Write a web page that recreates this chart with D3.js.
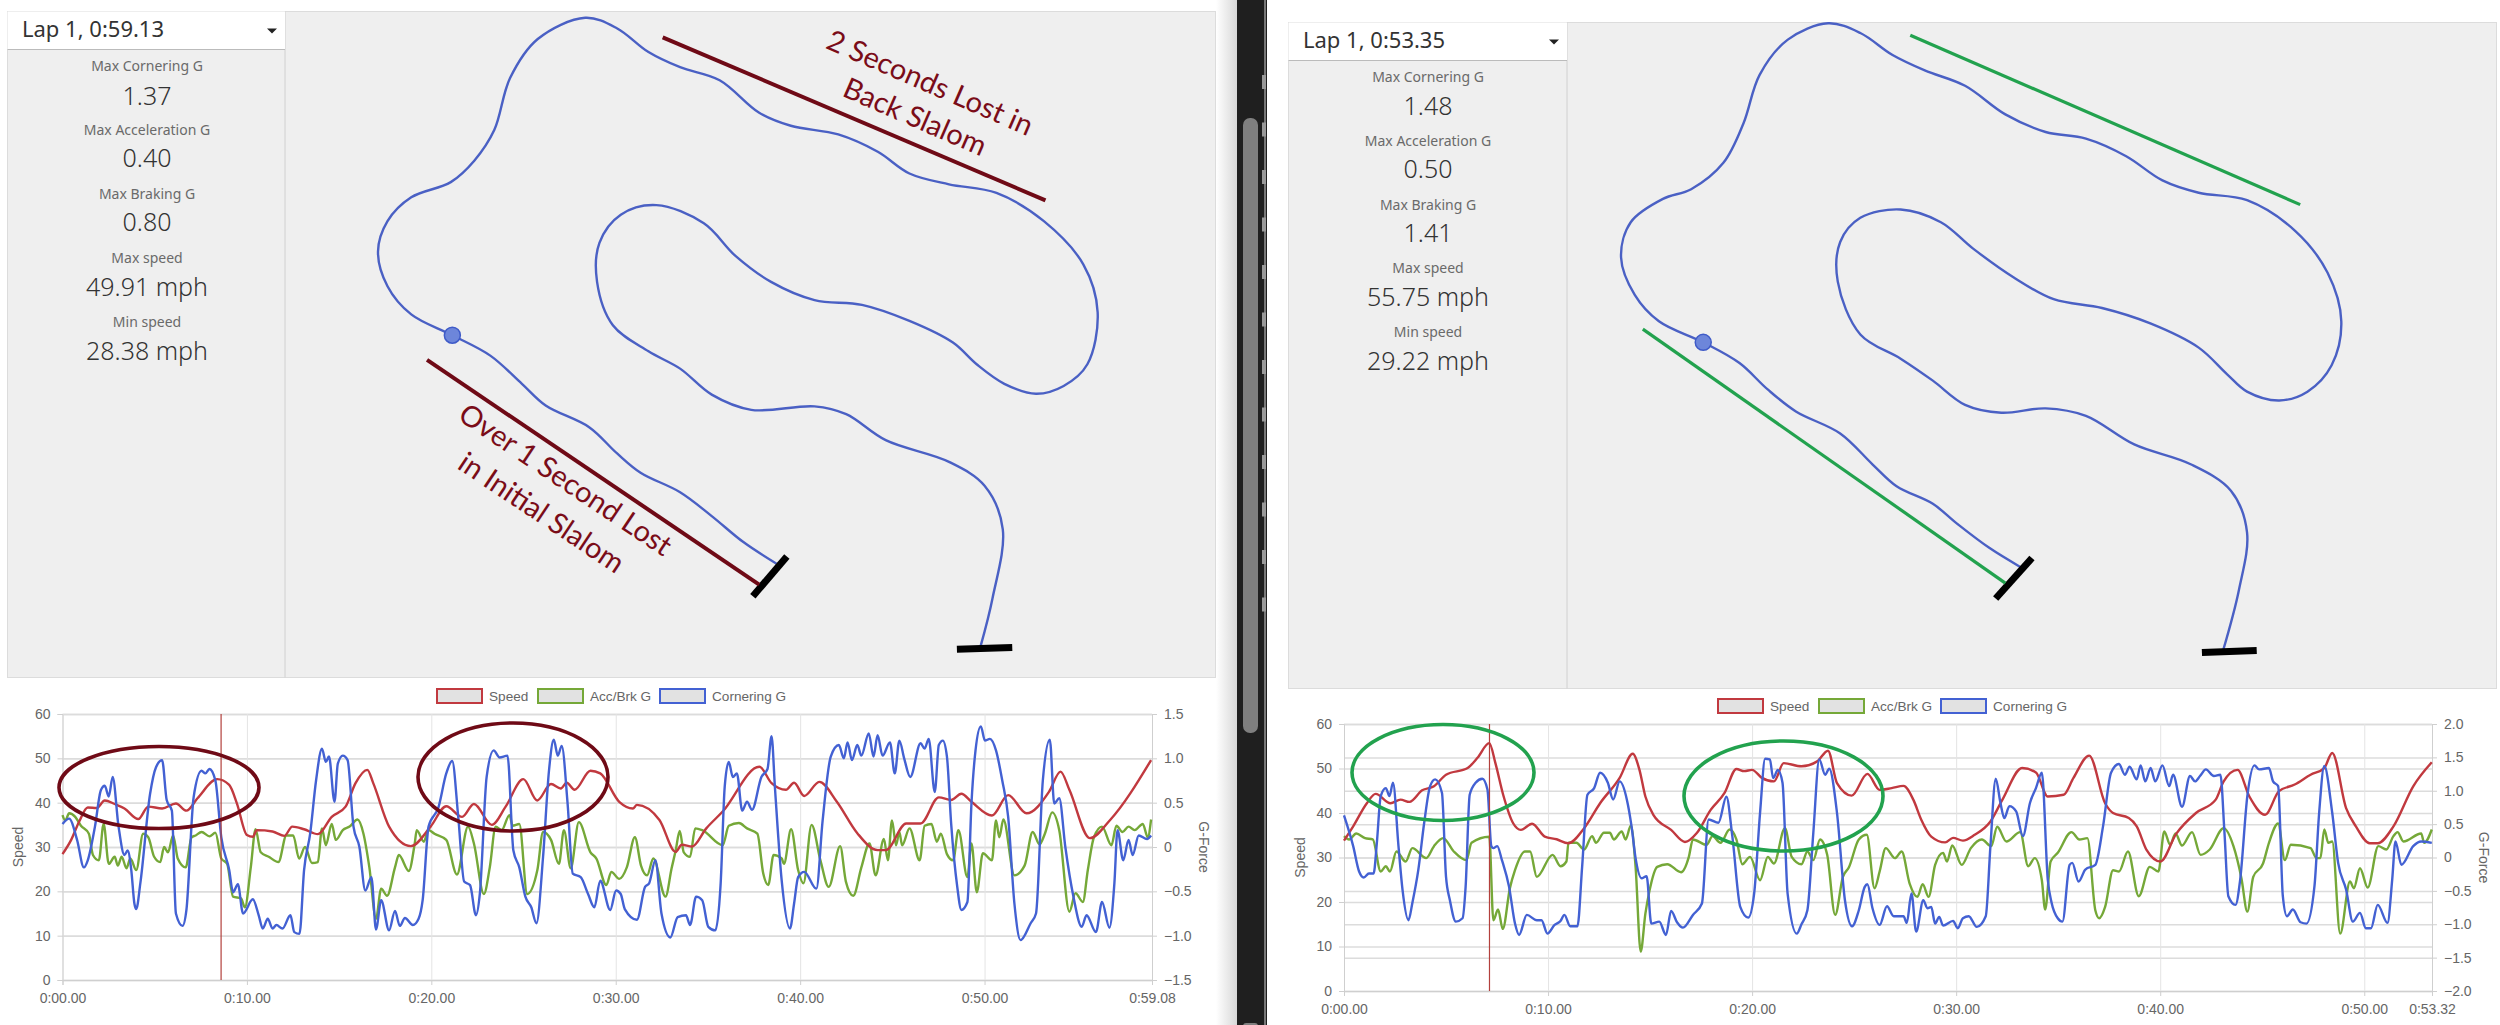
<!DOCTYPE html>
<html lang="en">
<head>
  <meta charset="UTF-8">
  <title>Autocross lap comparison</title>
  <script src="https://d3js.org/d3.v7.min.js"></script>
  <style>
    body { margin: 0; background: #fff; }
    svg { display: block; }
  </style>
</head>
<body>
<script type="text/javascript">
// [seconds, mph]
var lap1Speed = [[0,28.4],[.47,31.6],[.9,35.7],[1.37,38.9],[1.86,38.8],[2.29,40.5],[2.83,39.7],[3.36,38.7],[4.11,36.3],[4.65,39.1],[5.4,38.7],[6.15,39.8],[6.72,38.2],[7.32,41],[8.39,45.3],[9.04,44],[9.46,39.8],[10,32.7],[10.32,32.3],[10.54,33.8],[11.39,33.5],[12.03,32.5],[12.46,34.6],[13.1,34],[13.85,32.9],[14.6,36.8],[15.35,39.1],[15.89,44.4],[16.53,47.4],[16.85,44.4],[17.71,34.6],[18.89,30.2],[19.96,34.6],[20.81,39.2],[21.67,36.8],[22.31,39.7],[23.28,35],[24.03,39.1],[24.99,45.3],[25.74,40.5],[26.49,44.2],[27.02,43.2],[27.34,44.5],[27.77,42.9],[28.63,47.2],[29.16,46.6],[30.19,40.2],[30.93,38.7],[31.15,39.5],[32.37,36.1],[33.25,28.9],[33.58,30.5],[34.14,30.1],[34.91,34.2],[35.8,38],[37.79,48.1],[38.45,44.4],[39.23,42.9],[39.67,44.5],[40.22,41.5],[41.04,44.7],[41.99,40.2],[43.1,33.1],[44.2,29.3],[44.65,29.3],[45.75,35.3],[46.53,35.3],[47.52,41.2],[48.19,40.6],[48.74,42],[49.29,40.2],[50.4,37.1],[51.28,41.7],[52.28,37.6],[53.5,42.5],[54.12,47],[54.6,42.9],[55.71,32],[56.81,36.1],[59.03,49.6]];

// [seconds, G]
var lap1Accel = [[0,.36],[.15,.3],[.36,.38],[.69,.34],[1,.24],[1.43,.15],[1.65,-.09],[1.97,-.15],[2.23,.26],[2.51,-.19],[2.83,-.11],[3,-.21],[3.21,-.11],[3.47,-.24],[3.68,-.13],[4,-.26],[4.37,.15],[4.65,.11],[4.97,-.11],[5.3,-.17],[5.51,0],[5.72,-.06],[6,.13],[6.25,-.13],[6.68,-.23],[7,.11],[7.22,.13],[7.54,.17],[7.97,.12],[8.29,.16],[8.61,-.13],[8.93,-.19],[9.25,-.56],[9.68,-.58],[9.89,-.68],[10.21,-.23],[10.47,.2],[10.75,-.06],[11.18,-.11],[11.71,-.17],[12.14,.13],[12.51,.13],[12.83,-.13],[13.15,0],[13.53,-.18],[13.85,-.17],[14.07,.21],[14.28,.02],[14.6,.26],[14.82,.08],[15.2,.19],[15.57,.23],[16,.31],[16.32,.15],[16.64,-.23],[17,-.81],[17.28,-.47],[17.6,-.55],[18.03,-.23],[18.24,-.09],[18.78,-.27],[19.1,.04],[19.21,.19],[19.59,.06],[19.85,.19],[20.17,.15],[20.81,.08],[21.39,-.31],[21.99,.23],[22.31,.04],[22.85,-.53],[23.17,-.23],[23.49,.23],[23.81,.19],[24.24,.36],[24.41,.24],[24.77,.26],[25.2,-.53],[25.75,-.26],[26.06,.17],[26.49,.08],[26.92,-.19],[27.19,.19],[27.56,-.24],[28,.28],[28.63,-.06],[28.95,-.13],[29.49,-.43],[29.76,-.28],[30.19,-.36],[30.6,-.23],[31.04,.11],[31.37,-.21],[31.7,-.32],[32.04,-.13],[32.7,-.56],[33.03,-.24],[33.25,-.04],[33.47,.18],[33.69,-.06],[34.03,-.11],[34.31,.21],[34.69,.19],[35.8,.02],[36.13,.24],[36.68,.27],[37.12,.21],[37.68,.15],[38,-.3],[38.27,-.43],[38.56,-.09],[39,-.13],[39.12,-.19],[39.51,.2],[39.89,-.26],[40.18,-.41],[40.62,.25],[41.1,-.15],[41.55,-.45],[42.17,.01],[42.48,-.39],[42.88,-.55],[43.32,-.23],[43.76,.04],[44.09,-.32],[44.54,.09],[44.76,-.15],[44.98,.3],[45.2,.02],[45.38,.17],[45.53,.02],[45.93,.21],[46.48,-.15],[46.75,.24],[47.12,.26],[47.41,.06],[47.63,.15],[47.96,-.08],[48.3,-.15],[48.58,.19],[49.07,-.34],[49.29,.04],[49.58,-.51],[49.91,-.07],[50.4,-.15],[50.62,.3],[50.8,.11],[51.02,.31],[51.62,-.32],[52.17,-.21],[52.61,.17],[52.98,.03],[53.27,.15],[53.67,.39],[54.05,.19],[54.6,-.73],[54.93,-.52],[55.33,-.62],[55.6,-.26],[55.93,.11],[56.37,.23],[56.88,.02],[57.15,.24],[57.48,.17],[57.81,.23],[58.14,.19],[58.58,.26],[58.85,.11],[59.03,.31]];

var lap1Corner = [[0,.26],[.36,.32],[.79,.08],[1.16,-.23],[1.37,-.15],[1.76,.23],[2.08,.64],[2.29,.69],[2.51,.57],[2.72,.79],[3.04,.23],[3.36,-.09],[3.53,-.04],[3.73,-.26],[3.9,-.64],[4,-.7],[4.22,-.41],[4.75,.6],[5.07,.9],[5.4,.98],[5.65,.53],[5.93,.41],[6.15,-.75],[6.51,-.89],[6.72,-.71],[7.11,.56],[7.54,.86],[7.75,.83],[7.97,.88],[8.29,.75],[8.61,.11],[9.04,-.26],[9.25,-.51],[9.51,-.42],[9.79,-.75],[10.32,-.59],[10.64,-.77],[10.86,-.92],[11.13,-.81],[11.39,-.92],[11.6,-.88],[11.93,-.92],[12.36,-.77],[12.57,-.96],[12.85,-.98],[13.1,-.26],[13.43,.15],[13.75,.75],[14.07,1.11],[14.28,.96],[14.45,1.02],[14.75,.51],[14.93,.94],[15.2,1.03],[15.46,.98],[15.78,.23],[16.1,0],[16.42,-.49],[16.75,-.34],[17,-.93],[17.28,-.6],[17.71,-.94],[18.03,-.72],[18.29,-.89],[18.57,-.8],[19,-.88],[19.31,-.81],[19.53,-.6],[19.85,.23],[20.39,.45],[20.81,.83],[21.13,.97],[21.46,.34],[21.78,-.39],[22.1,-.43],[22.42,-.77],[22.63,-.53],[23,.79],[23.38,1.09],[23.7,1.01],[24.13,1.03],[24.45,-.04],[24.77,-.23],[25.1,-.56],[25.42,-.68],[25.7,-.86],[26.06,-.11],[26.38,.86],[26.64,1.21],[26.86,1.03],[27.07,1.14],[27.39,.49],[27.67,-.3],[28.1,-.34],[28.5,-.53],[28.84,-.68],[29.16,-.38],[29.7,-.71],[30.02,-.49],[30.27,-.53],[30.49,-.7],[31.15,-.82],[31.59,-.45],[31.81,-.41],[32.15,-.15],[32.48,-.75],[32.96,-1.02],[33.36,-.79],[33.81,-.77],[34.03,-.88],[34.36,-.56],[34.69,-.6],[35.02,-.9],[35.4,-.94],[35.69,-.41],[35.91,.68],[36.13,.96],[36.35,.79],[36.57,.83],[36.86,.41],[37.12,.51],[37.39,.42],[37.9,.79],[38.23,.88],[38.45,1.25],[38.63,.68],[39,-.38],[39.45,-.92],[39.67,-.64],[39.89,-.34],[40.22,-.28],[40.88,-.47],[41.22,.3],[41.66,1.02],[42.1,1.15],[42.37,1],[42.57,1.18],[42.81,.98],[43.1,1.15],[43.32,1.03],[43.72,1.28],[43.98,1.02],[44.2,1.26],[44.47,1.03],[44.87,1.18],[45.13,.83],[45.38,1.2],[45.64,1],[45.97,.79],[46.53,1.17],[46.75,1.11],[46.97,1.22],[47.3,.62],[47.52,1.15],[47.74,1.2],[47.96,1.02],[48.19,.26],[48.52,-.45],[48.74,-.71],[49.07,-.62],[49.29,.49],[49.51,1.09],[49.8,1.36],[50.02,1.2],[50.29,1.22],[50.62,1.09],[50.96,.75],[51.28,.34],[51.62,-.64],[51.95,-1.05],[52.5,-.86],[52.79,-.75],[53.16,.75],[53.54,1.21],[53.78,.49],[54.05,.55],[54.38,0],[54.82,-.56],[55.27,-.9],[55.53,-.77],[56.04,-.96],[56.37,-.62],[56.77,-.91],[57.04,-.41],[57.21,.19],[57.52,-.15],[57.81,.08],[58.03,-.09],[58.36,.13],[58.81,.09],[59.03,.13]];

var lap2Speed = [[0,33.8],[.45,37],[1.12,42.2],[1.55,44.3],[2.28,42.2],[2.77,43],[3.21,42.5],[3.83,45.1],[4.41,46],[5,48.6],[6.06,50.1],[6.54,52.4],[7.12,55.7],[7.42,51.2],[7.8,44.1],[8.29,37.7],[8.67,36.2],[9.22,37.6],[9.84,34.7],[10.42,34.1],[10.99,33.2],[11.77,36.6],[12.55,42.2],[13.51,47.9],[14.15,53.3],[14.48,49.7],[14.77,43.7],[15.16,39.6],[16.03,36.2],[16.71,33.5],[17.29,35.5],[17.97,40.7],[18.65,44.5],[19.23,49.9],[19.61,49.4],[20,49.7],[20.48,47.9],[21.07,47.1],[21.55,51.2],[22.42,50.5],[23.19,51.6],[23.72,54],[24.16,46.7],[24.88,43.9],[25.65,48.8],[26.25,45.2],[26.84,45.6],[27.42,46.1],[27.9,43],[28.29,38.5],[28.78,34.7],[29.46,33.4],[29.85,34.4],[30.33,33.8],[30.91,35.1],[31.68,38.1],[32.27,43],[33.23,50.1],[33.91,49.1],[34.49,43.7],[35.27,44.1],[35.75,47.9],[36.52,52.9],[37.3,42.2],[37.69,40],[38.46,38.9],[38.85,37],[39.33,31.7],[40.01,29.1],[40.78,35.3],[41.75,40],[42.72,43],[43.11,47.1],[43.79,49.7],[44.37,43.7],[45.14,39.6],[45.82,44.9],[46.59,46.4],[47.37,48.6],[48.04,50.1],[48.43,53.5],[49.11,41.1],[49.59,37],[50.27,33.2],[50.66,33.2],[51.43,37],[52.4,46],[53.31,51.4]];

var lap2Accel = [[0,.32],[.25,.27],[.6,.36],[1.03,.29],[1.41,.27],[1.8,-.21],[2.05,-.13],[2.25,-.21],[2.57,.09],[3.02,-.06],[3.35,.14],[4.03,-.01],[4.41,.17],[4.86,.29],[5.38,.09],[6,-.04],[6.25,.22],[7.12,.31],[7.32,-.94],[7.55,-.78],[7.78,-1.07],[8.13,-.46],[8.38,-.19],[8.87,.09],[9.12,.09],[9.45,-.29],[10.22,.04],[10.61,-.13],[10.9,-.06],[11,.22],[11.39,.22],[11.77,.12],[12.16,.32],[12.35,.22],[12.74,.37],[13.03,.37],[13.22,.27],[13.61,.39],[13.8,.27],[14.06,.48],[14.29,-.14],[14.54,-1.41],[14.77,-.84],[14.97,-.5],[15.35,-.14],[15.84,-.1],[16.52,-.22],[16.9,.01],[17.1,.27],[17.77,.19],[18.06,.32],[18.45,.22],[18.9,.42],[19.23,.27],[19.52,-.1],[19.9,.01],[20.39,-.34],[20.77,.01],[21.07,-.09],[21.61,.44],[21.94,.01],[22.42,-.1],[22.71,.09],[23,-.04],[23.33,.27],[23.68,.04],[24.07,-.86],[24.45,-.29],[24.74,-.15],[25.23,.27],[25.62,.34],[26,-.46],[26.25,-.21],[26.55,.14],[27,-.01],[27.33,.09],[27.72,-.39],[28.1,-.59],[28.36,-.4],[28.65,-.59],[28.97,-.11],[29.36,.07],[29.55,-.06],[29.81,.18],[30.27,-.11],[30.72,.14],[31.26,.27],[31.72,.17],[32.01,.46],[32.46,.24],[33.14,.38],[33.53,-.13],[33.85,-.01],[34.2,-.34],[34.36,-.78],[34.63,-.06],[34.98,.07],[35.65,.38],[36.04,.27],[36.43,.29],[36.82,-.79],[37.01,-.91],[37.3,-.74],[37.69,-.19],[37.98,-.21],[38.42,.09],[38.95,-.58],[39.49,-.14],[39.91,-.21],[40.2,.39],[40.49,.19],[40.75,.36],[41.07,.18],[41.56,.38],[41.98,.04],[42.43,.12],[43.11,.44],[43.59,.17],[43.98,-.31],[44.27,-.81],[44.56,-.29],[45.04,-.09],[45.33,.22],[45.78,.51],[46.11,-.04],[46.4,.19],[47.37,.14],[47.66,-.01],[47.85,-.01],[48.04,.42],[48.24,.22],[48.43,.24],[48.82,-1.14],[49.3,-.36],[49.49,-.46],[49.79,-.16],[50.17,-.45],[50.69,.17],[51.08,.12],[51.43,.32],[51.63,.38],[51.92,.24],[52.79,.36],[52.94,.22],[53.31,.42]];

var lap2Corner = [[0,.63],[.45,.17],[.74,-.21],[.97,-.3],[1.22,-.24],[1.45,-.24],[1.61,.22],[1.8,.92],[2.05,1.04],[2.23,.92],[2.4,1.12],[2.67,.17],[2.87,-.49],[3.16,-.94],[3.35,-.68],[3.64,-.19],[3.93,.52],[4.22,1.07],[4.47,1.17],[4.8,.97],[5,-.29],[5.19,-.64],[5.48,-.96],[5.81,-.91],[5.96,-.44],[6.16,.94],[6.45,1.12],[6.78,1.18],[7.03,1.02],[7.22,.17],[7.32,.14],[7.51,.17],[7.74,-.04],[8.09,-.44],[8.38,-.99],[8.58,-1.16],[8.96,-.86],[9.45,-.94],[9.68,-.94],[9.97,-1.14],[10.32,-1.01],[10.61,-.95],[10.8,-.86],[11.09,-1.03],[11.44,-1.03],[11.67,-.14],[11.93,.94],[12.26,1.04],[12.55,1.27],[12.93,1.12],[13.19,.87],[13.51,1.14],[13.86,.87],[14.09,.47],[14.29,-.01],[14.58,-.31],[14.83,-.28],[15.06,-.99],[15.45,-.96],[15.78,-1.16],[16.03,-.8],[16.32,-.97],[16.61,-1.05],[17.1,-.86],[17.54,-.69],[17.87,.57],[18.35,.52],[18.74,.91],[19.03,.32],[19.42,-.74],[19.81,-.9],[20.1,-.54],[20.39,.67],[20.64,1.48],[20.87,1.47],[21.03,1.19],[21.26,1.31],[21.49,1.12],[21.74,-.54],[22.19,-1.14],[22.42,-1],[22.71,-.79],[23,.37],[23.29,1.47],[23.58,1.24],[23.78,1.33],[24.16,.67],[24.55,-.64],[24.9,-1.03],[25.23,-.79],[25.52,-.44],[25.65,-.4],[25.9,-.76],[26.25,-1.01],[26.61,-.73],[26.94,-.88],[27.42,-.88],[27.58,-.98],[27.81,-.54],[28.04,-1.11],[28.39,-.64],[28.59,-.76],[28.78,-.74],[28.97,-.99],[29.17,-.89],[29.36,-1.02],[29.85,-.95],[30.08,-1.06],[30.33,-.91],[30.62,-.88],[31.01,-1.04],[31.45,-.88],[31.68,.17],[31.94,1.18],[32.17,.82],[32.36,.59],[32.61,.77],[32.94,.69],[33.27,.32],[33.62,.82],[33.91,1.04],[34.2,1.27],[34.49,-.33],[34.68,-.68],[34.98,-.91],[35.21,-.96],[35.56,-.11],[35.69,-.08],[36,-.36],[36.33,-.18],[36.82,-.11],[37.2,.47],[37.59,1.27],[37.98,1.4],[38.27,1.24],[38.5,1.36],[38.85,1.17],[39.04,1.38],[39.27,1.14],[39.53,1.34],[39.76,1.14],[40.11,1.38],[40.44,1.07],[40.63,1.24],[41.07,.76],[41.46,1.22],[41.71,1.14],[41.95,1.22],[42.24,1.32],[42.63,1.22],[42.95,1.24],[43.15,.37],[43.34,-.58],[43.69,-.71],[43.92,-.33],[44.27,.92],[44.62,1.38],[44.85,1.32],[45.33,1.34],[45.53,1.14],[45.78,1.07],[46.01,-.58],[46.21,-.88],[46.5,-.78],[46.88,-.97],[47.17,-.99],[47.56,-.43],[47.79,.67],[48.04,1.37],[48.43,.67],[48.72,-.08],[49.11,-.48],[49.44,-.96],[49.79,-.83],[50.08,-1.06],[50.33,-1.06],[50.66,-.71],[51.14,-.98],[51.37,-.33],[51.53,.24],[51.82,-.11],[52.4,.17],[52.79,.24],[53.31,.22]];

// track outlines (map units)
var lap1Track = [[982,1300],[940,1250],[900,1190],[860,1135],[810,1090],[780,1045],[745,985],[690,935],[660,885],[620,820],[572,773],[520,725],[490,660],[478,580],[490,510],[520,455],[570,420],[600,370],[625,300],[645,180],[680,90],[740,41],[780,65],[820,120],[860,155],[910,185],[960,260],[1000,290],[1060,310],[1110,350],[1150,400],[1200,425],[1260,445],[1320,510],[1370,610],[1388,720],[1375,840],[1345,890],[1310,908],[1270,885],[1235,840],[1205,790],[1150,740],[1090,703],[1030,692],[975,650],[930,590],[890,515],[830,473],[785,495],[758,560],[755,650],[775,750],[820,810],[860,850],[900,910],[950,945],[1030,937],[1070,955],[1120,1015],[1200,1065],[1245,1120],[1268,1220],[1255,1380],[1240,1490]];
var lap2Track = [[970,1290],[930,1245],[890,1190],[860,1145],[815,1105],[785,1055],[745,985],[690,935],[655,885],[620,825],[575,778],[520,730],[490,670],[473,585],[485,505],[525,452],[560,430],[600,370],[625,280],[645,170],[680,90],[730,53],[770,75],[810,125],[850,160],[900,195],[950,260],[1000,300],[1050,315],[1100,355],[1145,410],[1190,438],[1250,455],[1310,525],[1350,620],[1367,730],[1355,830],[1325,890],[1290,910],[1250,890],[1225,850],[1190,790],[1130,735],[1070,700],[1010,680],[960,630],[910,565],[870,505],[820,476],[770,495],[745,550],[742,640],[770,760],[820,815],[860,865],[900,920],[945,938],[1000,928],[1050,945],[1110,1010],[1180,1055],[1230,1115],[1250,1210],[1240,1340],[1220,1480]];

var lap1Markers = [[[995,1283],[952,1375]],[[1210,1497],[1280,1493]]];
var lap2Markers = [[[983,1268],[938,1360]],[[1194,1483],[1262,1478]]];
var lap1Bars = [[[838,86],[1322,462]],[[540,830],[960,1348]]];
var lap2Bars = [[[832,80],[1316,465]],[[500,748],[950,1325]]];
var lap1Cursor = [572,773];
var lap2Cursor = [575,778];

var statLabels = ["Max Cornering G","Max Acceleration G","Max Braking G","Max speed","Min speed"];
var lap1Stats = ["1.37","0.40","0.80","49.91 mph","28.38 mph"];
var lap2Stats = ["1.48","0.50","1.41","55.75 mph","29.22 mph"];
var seriesNames = ["Speed","Acc/Brk G","Cornering G"];
var lap1TimeTicks = [0,10,20,30,40,50,59.08];
var lap2TimeTicks = [0,10,20,30,40,50,53.32];
var speedTicks = [0,10,20,30,40,50,60];
var lap1GTicks = [-1.5,-1,-.5,0,.5,1,1.5];
var lap2GTicks = [-2,-1.5,-1,-.5,0,.5,1,1.5,2];

var RED = "#c1393f", GREEN = "#75a838", BLUE = "#4361d3", TEXT = "#666";
var SANS = "'Liberation Sans', Arial, sans-serif", UI = "'Noto Sans', sans-serif";

var svg = d3.select("body").append("svg").attr("width", 2500).attr("height", 1025);

// window gutter between the two screenshots
var defs = svg.append("defs");
var shade = defs.append("linearGradient").attr("id", "shade");
shade.append("stop").attr("offset", "0%").attr("stop-color", "#fff");
shade.append("stop").attr("offset", "100%").attr("stop-color", "#d8d8d8");
svg.append("rect").attr("x", 1216).attr("y", 0).attr("width", 21).attr("height", 1025).attr("fill", "url(#shade)");
svg.append("rect").attr("x", 1237).attr("y", 0).attr("width", 30).attr("height", 1025).attr("fill", "#1f1f1f");
svg.append("rect").attr("x", 1264).attr("y", 0).attr("width", 2).attr("height", 1025).attr("fill", "#777");
svg.append("rect").attr("x", 1243).attr("y", 118).attr("width", 15).attr("height", 615).attr("rx", 7).attr("fill", "#7f7f7f");
svg.append("rect").attr("x", 1243).attr("y", 1023).attr("width", 15).attr("height", 8).attr("rx", 3).attr("fill", "#7f7f7f");
d3.range(75, 620, 47.5).forEach(function(y){
  svg.append("rect").attr("x", 1262).attr("y", y).attr("width", 4).attr("height", 14).attr("fill", "#999");
});

drawMap({
  x: 7.5, y: 11.5, w: 1208, h: 666, side: 277.5, dropH: 38, title: "Lap 1, 0:59.13",
  stats: lap1Stats, statY: [71,105,135,167,199,231,263,296,327,360], statX: 147,
  track: lap1Track, markers: lap1Markers, bars: lap1Bars, barColor: "#6f0a16", barWidth: 4, cursor: lap1Cursor,
  sx: d3.scaleLinear().domain([0,1568]).range([0,1240]),
  sy: d3.scaleLinear().domain([0,1568]).range([0,680])
});
drawMap({
  x: 1288.5, y: 22.5, w: 1208, h: 666, side: 278.5, dropH: 38, title: "Lap 1, 0:53.35",
  stats: lap2Stats, statY: [82,115,146,178,210,242,273,306,337,370], statX: 1428,
  track: lap2Track, markers: lap2Markers, bars: lap2Bars, barColor: "#22a24e", barWidth: 3.2, cursor: lap2Cursor,
  sx: d3.scaleLinear().domain([0,1564]).range([1240,2500]),
  sy: d3.scaleLinear().domain([0,1568]).range([0,690])
});

drawChart({
  left: 62.5, right: 1152, top: 714, bottom: 980, end: 59.08, timeTicks: lap1TimeTicks,
  gDomain: [-1.5,1.5], gTicks: lap1GTicks, speed: lap1Speed, accel: lap1Accel, corner: lap1Corner, cursor: 8.6,
  legendY: 689, legendX: [437,538,660], speedTitleX: 18, forceTitleX: 1204
});
drawChart({
  left: 1344, right: 2432, top: 724, bottom: 991, end: 53.32, timeTicks: lap2TimeTicks,
  gDomain: [-2,2], gTicks: lap2GTicks, speed: lap2Speed, accel: lap2Accel, corner: lap2Corner, cursor: 7.13,
  legendY: 699, legendX: [1718,1819,1941], speedTitleX: 1300, forceTitleX: 2484
});

// hand drawn circles on the charts
[[159,787.5,100,41,"#6f0a16"],[513,777,95,54,"#6f0a16"],[1443,772.5,91,48,"#22a24e"],[1783.5,796,99.5,55,"#22a24e"]].forEach(function(e){
  svg.append("ellipse").attr("cx", e[0]).attr("cy", e[1]).attr("rx", e[2]).attr("ry", e[3])
     .attr("fill", "none").attr("stroke", e[4]).attr("stroke-width", 3.6);
});

// captions on the first map
[["2 Seconds Lost in",926,92,23.5],["Back Slalom",911,126,23.5],["Over 1 Second Lost",560,488,33.7],["in Initial Slalom",536,521,33.7]].forEach(function(c){
  svg.append("text").text(c[0]).attr("text-anchor", "middle")
     .attr("transform", "translate(" + c[1] + "," + c[2] + ") rotate(" + c[3] + ")")
     .attr("font-family", "Lato, sans-serif").attr("font-size", 29).attr("fill", "#7a0c18");
});

function drawMap(m) {
  svg.append("rect").attr("x", m.x).attr("y", m.y).attr("width", m.w).attr("height", m.h)
     .attr("fill", "#efefef").attr("stroke", "#dcdcdc");
  svg.append("line").attr("x1", m.x + m.side).attr("x2", m.x + m.side).attr("y1", m.y).attr("y2", m.y + m.h).attr("stroke", "#d0d0d0");
  svg.append("rect").attr("x", m.x).attr("y", m.y).attr("width", m.side).attr("height", m.dropH)
     .attr("fill", "#fff");
  svg.append("line").attr("x1", m.x).attr("x2", m.x + m.side).attr("y1", m.y + m.dropH).attr("y2", m.y + m.dropH).attr("stroke", "#bbb");
  svg.append("text").text(m.title).attr("x", m.x + 14.5).attr("y", m.y + 25)
     .attr("font-family", UI).attr("font-size", 22).attr("fill", "#333");
  var ax = m.x + m.side - 13, ay = m.y + 19;
  svg.append("path").attr("d", d3.line()([[ax - 5, ay - 2],[ax + 5, ay - 2],[ax, ay + 3]])).attr("fill", "#222");

  statLabels.forEach(function(l, i){
    svg.append("text").text(l).attr("x", m.statX).attr("y", m.statY[i*2]).attr("text-anchor", "middle")
       .attr("font-family", UI).attr("font-size", 14).attr("fill", "#6a6a6a");
    svg.append("text").text(m.stats[i]).attr("x", m.statX).attr("y", m.statY[i*2+1]).attr("text-anchor", "middle")
       .attr("font-family", UI).attr("font-weight", 300).attr("font-size", 25).attr("fill", "#333");
  });

  var line = d3.line().x(function(d){ return m.sx(d[0]); }).y(function(d){ return m.sy(d[1]); });
  svg.append("path").attr("d", line.curve(d3.curveCatmullRom.alpha(0.5))(m.track)).attr("fill", "none").attr("stroke", "#4a60c4").attr("stroke-width", 2.4);
  line.curve(d3.curveLinear);
  m.markers.forEach(function(d){
    svg.append("path").attr("d", line(d)).attr("stroke", "#000").attr("stroke-width", 7);
  });
  m.bars.forEach(function(d){
    svg.append("path").attr("d", line(d)).attr("stroke", m.barColor).attr("stroke-width", m.barWidth);
  });
  svg.append("circle").attr("cx", m.sx(m.cursor[0])).attr("cy", m.sy(m.cursor[1])).attr("r", 8)
     .attr("fill", "#6d86da").attr("stroke", "#3f5bc8").attr("stroke-width", 1.5);
}

function fmtTime(s) {
  var whole = Math.floor(s);
  var hund = Math.round((s - whole) * 100);
  return "0:" + d3.format("02")(whole) + "." + d3.format("02")(hund);
}

function drawChart(c) {
  var x = d3.scaleLinear().domain([0, c.end]).range([c.left, c.right]);
  var ySpeed = d3.scaleLinear().domain([0, 60]).range([c.bottom, c.top]);
  var yG = d3.scaleLinear().domain(c.gDomain).range([c.bottom, c.top]);
  var w = c.right - c.left;
  var g = svg.append("g").attr("font-family", SANS);

  // grids, chart.js style
  var grid = function(sel) {
    sel.call(function(a){ a.select(".domain").remove(); });
    sel.selectAll("line").attr("stroke", "#dcdcdc").attr("stroke-width", 1.5);
    sel.selectAll("text").remove();
  };
  g.append("g").attr("transform", "translate(" + c.left + ",0)")
    .call(d3.axisLeft(ySpeed).tickValues(speedTicks).tickSize(-w)).call(grid);
  g.append("g").attr("transform", "translate(" + c.right + ",0)")
    .call(d3.axisRight(yG).tickValues(c.gTicks).tickSize(-w)).call(grid);
  g.append("g").attr("transform", "translate(0," + c.bottom + ")")
    .call(d3.axisBottom(x).tickValues(c.timeTicks).tickSize(c.top - c.bottom)).call(grid)
    .selectAll("line").attr("stroke", "#e4e4e4").attr("stroke-width", 1);

  var tickStyle = function(sel) {
    sel.select(".domain").attr("stroke", "#cfcfcf");
    sel.selectAll("line").attr("stroke", "#cfcfcf");
    sel.selectAll("text").attr("fill", TEXT).attr("font-size", 14).attr("font-family", SANS);
  };
  g.append("g").attr("transform", "translate(" + c.left + ",0)")
    .call(d3.axisLeft(ySpeed).tickValues(speedTicks).tickSize(5).tickPadding(7)).call(tickStyle);
  g.append("g").attr("transform", "translate(" + c.right + ",0)")
    .call(d3.axisRight(yG).tickValues(c.gTicks).tickSize(5).tickPadding(7)
      .tickFormat(function(d){ return d === 0 ? "0" : d3.format(".1f")(d); })).call(tickStyle);
  g.append("g").attr("transform", "translate(0," + c.bottom + ")")
    .call(d3.axisBottom(x).tickValues(c.timeTicks).tickSize(5).tickPadding(8).tickFormat(fmtTime)).call(tickStyle);

  var mid = (c.top + c.bottom) / 2;
  g.append("text").text("Speed").attr("text-anchor", "middle").attr("fill", TEXT).attr("font-size", 14)
   .attr("transform", "translate(" + (c.speedTitleX + 5) + "," + mid + ") rotate(-90)");
  g.append("text").text("G-Force").attr("text-anchor", "middle").attr("fill", TEXT).attr("font-size", 14)
   .attr("transform", "translate(" + (c.forceTitleX - 5) + "," + mid + ") rotate(90)");

  // legend
  [RED, GREEN, BLUE].forEach(function(col, i){
    g.append("rect").attr("x", c.legendX[i]).attr("y", c.legendY).attr("width", 45).attr("height", 14)
     .attr("fill", "#e2e2e2").attr("stroke", col).attr("stroke-width", 2);
    g.append("text").text(seriesNames[i]).attr("x", c.legendX[i] + 52).attr("y", c.legendY + 12)
     .attr("fill", TEXT).attr("font-size", 13.6);
  });

  var tLine = function(y) {
    return d3.line().x(function(d){ return x(d[0]); }).y(function(d){ return y(d[1]); }).curve(d3.curveMonotoneX);
  };
  g.append("path").attr("d", tLine(yG)(c.accel)).attr("fill", "none").attr("stroke", GREEN).attr("stroke-width", 2.4);
  g.append("path").attr("d", tLine(ySpeed)(c.speed)).attr("fill", "none").attr("stroke", RED).attr("stroke-width", 2.4);
  g.append("path").attr("d", tLine(yG)(c.corner)).attr("fill", "none").attr("stroke", BLUE).attr("stroke-width", 2.4);

  g.append("line").attr("x1", x(c.cursor)).attr("x2", x(c.cursor)).attr("y1", c.top).attr("y2", c.bottom)
   .attr("stroke", "#b3403c").attr("stroke-width", 1.2);
}
</script>
</body>
</html>
